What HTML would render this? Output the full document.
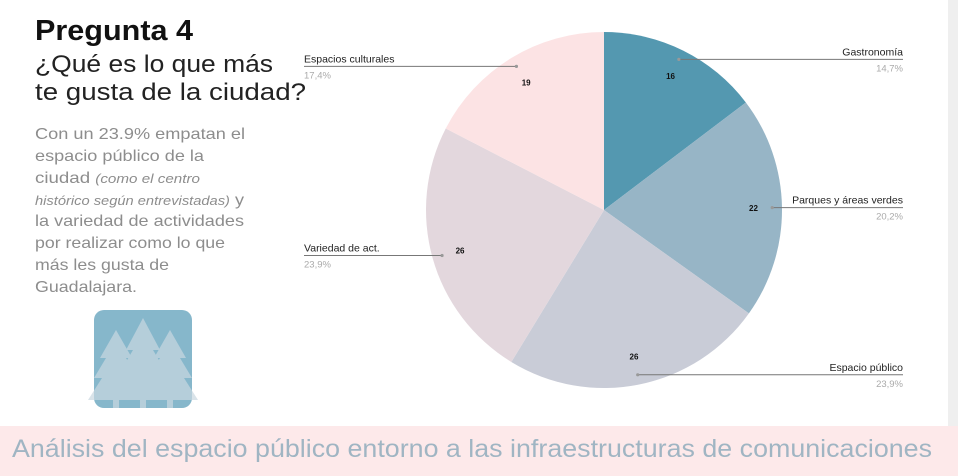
<!DOCTYPE html>
<html><head><meta charset="utf-8">
<style>
body{margin:0;width:958px;height:476px;overflow:hidden;background:#fff;font-family:"Liberation Sans",sans-serif;position:relative}
.abs{position:absolute;margin:0}
</style></head><body>
<div class="abs" style="left:948px;top:0;width:10px;height:426px;background:#efefef"></div>
<svg class="abs" style="left:0;top:0" width="320" height="300" font-family="Liberation Sans, sans-serif">
<text x="35" y="40" font-size="29" font-weight="bold" fill="#111" textLength="158" lengthAdjust="spacingAndGlyphs">Pregunta 4</text>
<text x="35" y="72" font-size="24" fill="#222" textLength="238" lengthAdjust="spacingAndGlyphs">¿Qué es lo que más</text>
<text x="35" y="100" font-size="24" fill="#222" textLength="271" lengthAdjust="spacingAndGlyphs">te gusta de la ciudad?</text>
<g fill="#8d8d8d" font-size="16">
<text x="35" y="139" textLength="210" lengthAdjust="spacingAndGlyphs">Con un 23.9% empatan el</text>
<text x="35" y="161" textLength="169" lengthAdjust="spacingAndGlyphs">espacio público de la</text>
<text x="35" y="183" textLength="165" lengthAdjust="spacingAndGlyphs">ciudad <tspan font-style="italic" font-size="13">(como el centro</tspan></text>
<text x="35" y="205" textLength="209" lengthAdjust="spacingAndGlyphs"><tspan font-style="italic" font-size="13">histórico según entrevistadas)</tspan> y</text>
<text x="35" y="226" textLength="209" lengthAdjust="spacingAndGlyphs">la variedad de actividades</text>
<text x="35" y="248" textLength="190" lengthAdjust="spacingAndGlyphs">por realizar como lo que</text>
<text x="35" y="270" textLength="134" lengthAdjust="spacingAndGlyphs">más les gusta de</text>
<text x="35" y="292" textLength="102" lengthAdjust="spacingAndGlyphs">Guadalajara.</text>
</g>
</svg>
<svg class="abs" style="left:86px;top:308px" width="114" height="102">
<rect x="8" y="2" width="98" height="98" rx="10" fill="#86b7cb"/>
<g fill="#c9d8e1" opacity="0.7">
<polygon points="30,22 14,50 20,50 8,70 16,70 2,92 58,92 44,70 52,70 40,50 46,50"/>
<polygon points="84,22 68,50 74,50 62,70 70,70 56,92 112,92 98,70 106,70 94,50 100,50"/>
<polygon points="57,10 40,42 47,42 34,64 42,64 28,90 86,90 72,64 80,64 67,42 74,42"/>
<rect x="27" y="86" width="6" height="14"/><rect x="54" y="86" width="6" height="14"/><rect x="81" y="86" width="6" height="14"/>
</g></svg>
<svg class="abs" id="chart" style="left:0;top:0" width="948" height="426" font-family="Liberation Sans, sans-serif"></svg>
<svg class="abs" style="left:0;top:426px" width="958" height="50">
<rect width="958" height="50" fill="#fde9ea"/>
<text x="12" y="31" font-size="25" fill="#a0b5c3" textLength="920" lengthAdjust="spacingAndGlyphs" font-family="Liberation Sans, sans-serif">Análisis del espacio público entorno a las infraestructuras de comunicaciones</text>
</svg>
<script>
const categories=["Gastronomía","Parques y áreas verdes","Espacio público","Variedad de act.","Espacios culturales"];
const values=[16,22,26,26,19];
const percents=["14,7%","20,2%","23,9%","23,9%","17,4%"];
const colors=["#5498b0","#97b5c6","#c9ccd7","#e3d7dd","#fce3e4"];
const svg=document.getElementById('chart');
const NS="http://www.w3.org/2000/svg";
const cx=604,cy=210,r=178;
const total=values.reduce((a,b)=>a+b,0);
function pt(a,rr){return [cx+rr*Math.sin(a),cy-rr*Math.cos(a)];}
function mk(t,attrs){const e=document.createElementNS(NS,t);for(const k in attrs)e.setAttribute(k,attrs[k]);svg.appendChild(e);return e;}
let acc=0;
values.forEach((v,i)=>{
 const a0=acc/total*2*Math.PI; acc+=v; const a1=acc/total*2*Math.PI;
 const p0=pt(a0,r),p1=pt(a1,r);
 const s=mk('path',{d:`M${cx},${cy}L${p0[0]},${p0[1]}A${r},${r} 0 ${a1-a0>Math.PI?1:0} 1 ${p1[0]},${p1[1]}Z`,fill:colors[i]});
 
 
 const am=(a0+a1)/2;
 const lp=pt(am,r*0.84);
 const t=mk('text',{x:lp[0],y:lp[1]+3,'font-size':8,'font-weight':'bold','text-anchor':'middle',fill:'#111'});
 t.textContent=v;
 
 
 const dp=pt(am,r*0.945);
 const right=Math.sin(am)>0;
 const ly=dp[1];
 const lx2=right?903:304;
 const ln=mk('line',{x1:dp[0],y1:ly,x2:lx2,y2:ly,stroke:'#777','stroke-width':1});
 
 
 mk('circle',{cx:dp[0],cy:ly,r:1.6,fill:'#999'});
 const lab=mk('text',{x:lx2,y:ly-4,'font-size':10.5,fill:'#222','text-anchor':right?'end':'start'});
 lab.textContent=categories[i];
 
 
 const pc=mk('text',{x:lx2,y:ly+12,'font-size':9.5,fill:'#aaa','text-anchor':right?'end':'start'});
 pc.textContent=percents[i];
 
 
});
</script>
</body></html>
